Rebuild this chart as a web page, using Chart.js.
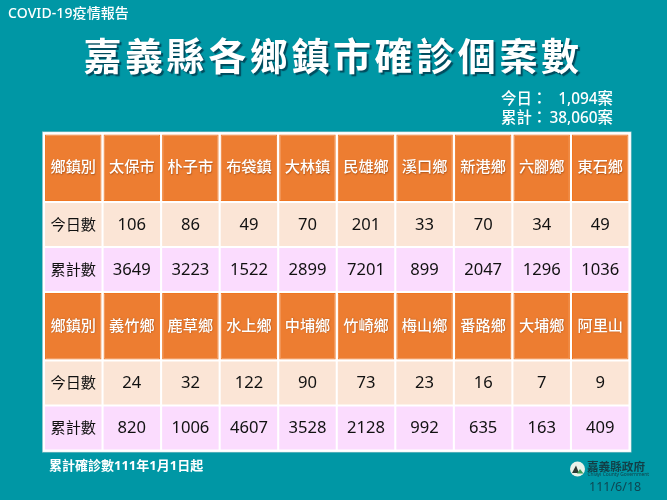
<!DOCTYPE html>
<html lang="zh-Hant"><head><meta charset="utf-8">
<style>html,body{margin:0;padding:0;background:#0097A5;overflow:hidden}#wrap{position:relative;width:667px;height:500px}</style>
<script src="https://cdn.jsdelivr.net/npm/chart.js@4"></script></head>
<body><div id="wrap"><canvas id="c" width="667" height="500"></canvas></div>
<script>
const rowHeader = '鄉鎮別';
const todayLabel = '今日數';
const totalLabel = '累計數';
const townsA = ['太保市','朴子市','布袋鎮','大林鎮','民雄鄉','溪口鄉','新港鄉','六腳鄉','東石鄉'];
const todayA = [106,86,49,70,201,33,70,34,49];
const totalA = [3649,3223,1522,2899,7201,899,2047,1296,1036];
const townsB = ['義竹鄉','鹿草鄉','水上鄉','中埔鄉','竹崎鄉','梅山鄉','番路鄉','大埔鄉','阿里山'];
const todayB = [24,32,122,90,73,23,16,7,9];
const totalB = [820,1006,4607,3528,2128,992,635,163,409];
const rowHeights = [68.5,45,45,68.5,45,45];
const title = '嘉義縣各鄉鎮市確診個案數';
const kicker = 'COVID-19疫情報告';
const summaryLabels = ['今日：','累計：'];
const summaryValues = ['1,094案','38,060案'];
const note = '累計確診數111年1月1日起';
const org = ['嘉義縣政府','Chiayi County Government'];
const dateLabel = '111/6/18';

const TEAL='#0097A5', ORANGE='#ED7D31', PEACH='#FBE5D6', PINK='#FBDCFE';
const CJK='"Noto Sans","Noto Sans CJK TC",sans-serif';
const tableRows = [
  [rowHeader,...townsA],[todayLabel,...todayA],[totalLabel,...totalA],
  [rowHeader,...townsB],[todayLabel,...todayB],[totalLabel,...totalB]
];
const columns = tableRows[0];
const rowFills = [ORANGE,PEACH,PINK,ORANGE,PEACH,PINK];
let edge=0; const bands = rowHeights.map(h=>{const b=[edge,edge+h];edge+=h;return b;});
const datasets = bands.map((b,r)=>({
  label:'row'+r,
  data:columns.map(()=>[b[0]+1,b[1]-1]),
  backgroundColor:rowFills[r],
  borderColor:r%3===0?'#EF7622':rowFills[r],
  borderWidth:r%3===0?1:0,
  borderSkipped:false,
  barPercentage:1,categoryPercentage:0.965,grouped:false
}));
function put(ctx,t,x,y,font,color,align,spacing){
  ctx.font=font;ctx.fillStyle=color;ctx.textAlign=align||'center';ctx.textBaseline='middle';
  ctx.letterSpacing=spacing||'0px';ctx.fillText(String(t),x,y);ctx.letterSpacing='0px';
}
const backdrop={id:'backdrop',beforeDraw(ch){
  const g=ch.ctx,a=ch.chartArea;
  g.save();g.fillStyle=TEAL;g.fillRect(0,0,667,500);
  g.fillStyle='#ffffff';g.fillRect(a.left-1.5,a.top-1.5,a.width+3,a.height+3);
  g.strokeStyle='#9fc9cd';g.lineWidth=.6;g.strokeRect(a.left-1.7,a.top-1.7,a.width+3.4,a.height+3.4);
  g.restore();
}};
const labelsPlugin={id:'labels',afterDatasetsDraw(ch){
  const g=ch.ctx,xs=ch.scales.x,ys=ch.scales.y;
  g.save();
  tableRows.forEach((row,r)=>{
    const head=r%3===0, y=ys.getPixelForValue((bands[r][0]+bands[r][1])/2)+(head?0:0.7);
    row.forEach((v,c)=>{
      const x=xs.getPixelForValue(c);
      const numeric=typeof v==='number';
      if(head){g.shadowColor='rgba(120,50,0,.55)';g.shadowBlur=1.5;g.shadowOffsetX=.5;g.shadowOffsetY=.5;}
      put(g,v,x,y,(head?'500 ':'400 ')+(numeric?'16.6px ':'15.2px ')+CJK,head?'#ffffff':'#111111');
      g.shadowColor='transparent';g.shadowBlur=0;g.shadowOffsetX=0;g.shadowOffsetY=0;
    });
  });
  put(g,kicker,8,14.5,'500 14px '+CJK,'#ffffff','left','0.1px');
  g.shadowColor='rgba(0,50,70,.75)';g.shadowBlur=1;g.shadowOffsetX=2;g.shadowOffsetY=2;
  put(g,title,333,59,'700 38px '+CJK,'#ffffff','center','3.6px');
  g.shadowColor='transparent';g.shadowBlur=0;g.shadowOffsetX=0;g.shadowOffsetY=0;
  [100,118.5].forEach((y,i)=>{
    put(g,summaryLabels[i],501,y,'500 15.4px '+CJK,'#ffffff','left');
    put(g,summaryValues[i],613,y,'500 15.4px '+CJK,'#ffffff','right');
  });
  put(g,note,49,466.5,'700 13px '+CJK,'#ffffff','left');
  // county emblem
  g.fillStyle='#e9f2ea';g.beginPath();g.arc(577.5,469,7.5,0,Math.PI*2);g.fill();
  g.fillStyle='#2b3a34';g.beginPath();g.moveTo(572,473);g.lineTo(576,465.5);g.lineTo(579,473);g.closePath();g.fill();
  g.fillStyle='#3f9a55';g.beginPath();g.moveTo(577,473.5);g.lineTo(580,469);g.lineTo(583.5,473.5);g.closePath();g.fill();
  put(g,org[0],587,466.5,'700 11.6px "Noto Sans CJK TC",sans-serif','#123f47','left');
  put(g,org[1],587.5,475,'400 4.9px '+CJK,'#123f47','left');
  put(g,dateLabel,589,487.5,'400 12.5px '+CJK,'#0e4652','left');
  g.restore();
}};
new Chart(document.getElementById('c'),{
  type:'bar',
  data:{labels:columns.map((_,i)=>i),datasets},
  plugins:[backdrop,labelsPlugin],
  options:{
    responsive:false,animation:false,devicePixelRatio:1,
    layout:{padding:{left:44,right:37.5,top:133.5,bottom:49.5}},
    plugins:{legend:{display:false},tooltip:{enabled:false},title:{display:false}},
    scales:{
      x:{type:'category',display:false,offset:true},
      y:{type:'linear',display:false,reverse:true,min:0,max:edge}
    }
  }
});
</script></body></html>
